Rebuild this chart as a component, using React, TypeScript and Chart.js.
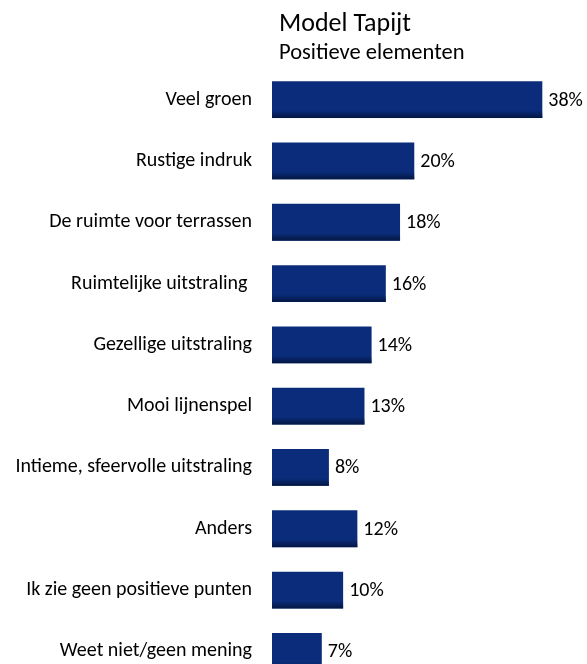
import { useEffect, useRef } from "react";
import { Chart, registerables } from "chart.js";

Chart.register(...registerables);

const TITLE = "Model Tapijt";
const SUBTITLE = "Positieve elementen";
const categories = [
  "Veel groen",
  "Rustige indruk",
  "De ruimte voor terrassen",
  "Ruimtelijke uitstraling ",
  "Gezellige uitstraling",
  "Mooi lijnenspel",
  "Intieme, sfeervolle uitstraling",
  "Anders",
  "Ik zie geen positieve punten",
  "Weet niet/geen mening",
];
const values = [38, 20, 18, 16, 14, 13, 8, 12, 10, 7];
const valueLabels = values.map((v) => `${v}%`);

const FONT = "Carlito, Lato, sans-serif";
const BAR_COLOR = "#0a2c7a";

const titlePlugin = {
  id: "titleText",
  afterDraw(chart: any) {
    const { ctx, chartArea } = chart;
    ctx.save();
    ctx.fillStyle = "#000";
    ctx.textAlign = "left";
    ctx.textBaseline = "alphabetic";
    ctx.font = `26px ${FONT}`;
    ctx.fillText(TITLE, chartArea.left + 7, 31);
    ctx.font = `22.5px ${FONT}`;
    ctx.fillText(SUBTITLE, chartArea.left + 7, 59);
    ctx.restore();
  },
};

const barDecorPlugin = {
  id: "barDecor",
  afterDatasetsDraw(chart: any) {
    const { ctx } = chart;
    const meta = chart.getDatasetMeta(0);
    ctx.save();
    meta.data.forEach((bar: any, i: number) => {
      const p = bar.getProps(["x", "y", "base", "height"], true);
      const bottom = p.y + p.height / 2;
      const shadeTop = bottom - p.height * 0.2;
      const g = ctx.createLinearGradient(0, shadeTop, 0, bottom);
      g.addColorStop(0, "rgba(2,20,60,0)");
      g.addColorStop(1, "rgba(2,20,60,0.9)");
      ctx.fillStyle = g;
      ctx.fillRect(p.base, shadeTop, p.x - p.base, bottom - shadeTop);
      ctx.fillStyle = "#000";
      ctx.font = `20px ${FONT}`;
      ctx.textAlign = "left";
      ctx.textBaseline = "middle";
      ctx.fillText(valueLabels[i], p.x + 6, p.y + 1);
    });
    ctx.restore();
  },
};

export default function App() {
  const ref = useRef<HTMLCanvasElement>(null);
  useEffect(() => {
    if (!ref.current) return;
    const chart = new Chart(ref.current, {
      type: "bar",
      data: {
        labels: categories,
        datasets: [
          {
            data: values,
            backgroundColor: BAR_COLOR,
            borderWidth: 0,
            barPercentage: 0.6,
            categoryPercentage: 1,
          },
        ],
      },
      options: {
        indexAxis: "y",
        responsive: false,
        animation: false,
        layout: { padding: { top: 69, bottom: 8, left: 0, right: 2 } },
        plugins: {
          legend: { display: false },
          tooltip: { enabled: false },
          title: { display: false },
        },
        scales: {
          x: { display: false, min: 0, max: 44 },
          y: {
            grid: { display: false, drawTicks: false },
            border: { display: false },
            ticks: {
              padding: 20,
              color: "#000",
              font: { family: FONT, size: 20 },
            },
            afterFit: (s: any) => {
              s.width = 272;
              s.paddingTop = 0;
              s.paddingBottom = 0;
            },
          },
        },
      },
      plugins: [titlePlugin, barDecorPlugin],
    });
    return () => chart.destroy();
  }, []);
  return (
    <div
      style={{
        position: "absolute",
        left: 0,
        top: 0,
        width: 587,
        height: 664,
        overflow: "hidden",
        background: "#fff",
      }}
    >
      <canvas ref={ref} width={587} height={690} style={{ display: "block" }} />
    </div>
  );
}
